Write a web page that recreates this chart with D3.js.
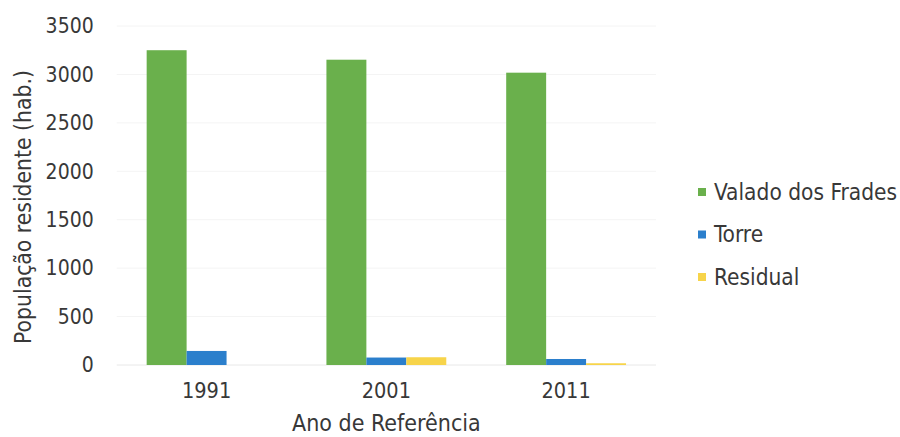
<!DOCTYPE html>
<html>
<head>
<meta charset="utf-8">
<script src="https://cdn.jsdelivr.net/npm/d3@7/dist/d3.min.js"></script>
<style>
  body { margin: 0; background: #fff; }
  svg text { font-family: "DejaVu Sans Condensed", "DejaVu Sans", sans-serif; fill: #383838; }
</style>
</head>
<body>
<svg width="900" height="437"></svg>
<script>
// data
var years = ["1991", "2001", "2011"];
var seriesNames = ["Valado dos Frades", "Torre", "Residual"];
var valado = [3250, 3152, 3018];
var torre = [145, 77, 62];
var residual = [0, 80, 18];
var yTicks = [0, 500, 1000, 1500, 2000, 2500, 3000, 3500];
var colors = ["#6ab04c", "#2b7fcc", "#f7d44a"];

var svg = d3.select("svg"),
    margin = {top: 26, right: 244, bottom: 72, left: 116.7},
    width = 900 - margin.left - margin.right,
    height = 437 - margin.top - margin.bottom;

var table = years.map(function(y, i) {
  return {year: y, values: [valado[i], torre[i], residual[i]]};
});

// scales
var x0 = d3.scaleBand().domain(years).range([0, width])
    .paddingInner(1/3).paddingOuter(1/6);
var x1 = d3.scaleBand().domain(seriesNames).range([0, x0.bandwidth()]);
var y = d3.scaleLinear().domain([0, 3500]).range([height, 0]);

var chart = svg.append("g")
    .attr("transform", "translate(" + margin.left + "," + margin.top + ")");

// gridlines
chart.append("g")
    .selectAll("line")
    .data(yTicks)
  .enter().append("line")
    .attr("x1", 0)
    .attr("x2", width)
    .attr("y1", function(d) { return y(d); })
    .attr("y2", function(d) { return y(d); })
    .attr("stroke", function(d) { return d === 0 ? "#e8e8e8" : "#f4f4f4"; })
    .attr("stroke-width", 1);

// y axis (labels only)
var yAxis = chart.append("g")
    .call(d3.axisLeft(y).tickValues(yTicks).tickFormat(d3.format("d")).tickSize(0).tickPadding(23));
yAxis.select(".domain").remove();
yAxis.selectAll("text")
    .attr("font-size", 21)
    .attr("font-family", null);

// x axis (labels only)
var xAxis = chart.append("g")
    .attr("transform", "translate(0," + height + ")")
    .call(d3.axisBottom(x0).tickSize(0).tickPadding(18));
xAxis.select(".domain").remove();
xAxis.selectAll("text")
    .attr("font-size", 21.5)
    .attr("font-family", null);

// bars
var groups = chart.selectAll(".year")
    .data(table)
  .enter().append("g")
    .attr("class", "year")
    .attr("transform", function(d) { return "translate(" + x0(d.year) + ",0)"; });

groups.selectAll("rect")
    .data(function(d) { return d.values.map(function(v, i) { return {name: seriesNames[i], value: v, i: i}; }); })
  .enter().append("rect")
    .attr("x", function(d) { return x1(d.name); })
    .attr("width", x1.bandwidth())
    .attr("y", function(d) { return y(d.value); })
    .attr("height", function(d) { return height - y(d.value); })
    .attr("fill", function(d) { return colors[d.i]; });

// axis titles
svg.append("text")
    .attr("x", margin.left + width / 2)
    .attr("y", 431)
    .attr("text-anchor", "middle")
    .attr("font-size", 23)
    .text("Ano de Referência");

svg.append("text")
    .attr("transform", "translate(31,207) rotate(-90)")
    .attr("text-anchor", "middle")
    .attr("font-size", 22.7)
    .text("População residente (hab.)");

// legend
var legend = svg.append("g")
    .attr("transform", "translate(698,192)");
var items = legend.selectAll("g")
    .data(seriesNames)
  .enter().append("g")
    .attr("transform", function(d, i) { return "translate(0," + (i * 42.5) + ")"; });
items.append("rect")
    .attr("x", 0)
    .attr("y", -4)
    .attr("width", 8)
    .attr("height", 8)
    .attr("fill", function(d, i) { return colors[i]; });
items.append("text")
    .attr("x", 16)
    .attr("dy", "0.35em")
    .attr("font-size", 22.5)
    .text(function(d) { return d; });
</script>
</body>
</html>
